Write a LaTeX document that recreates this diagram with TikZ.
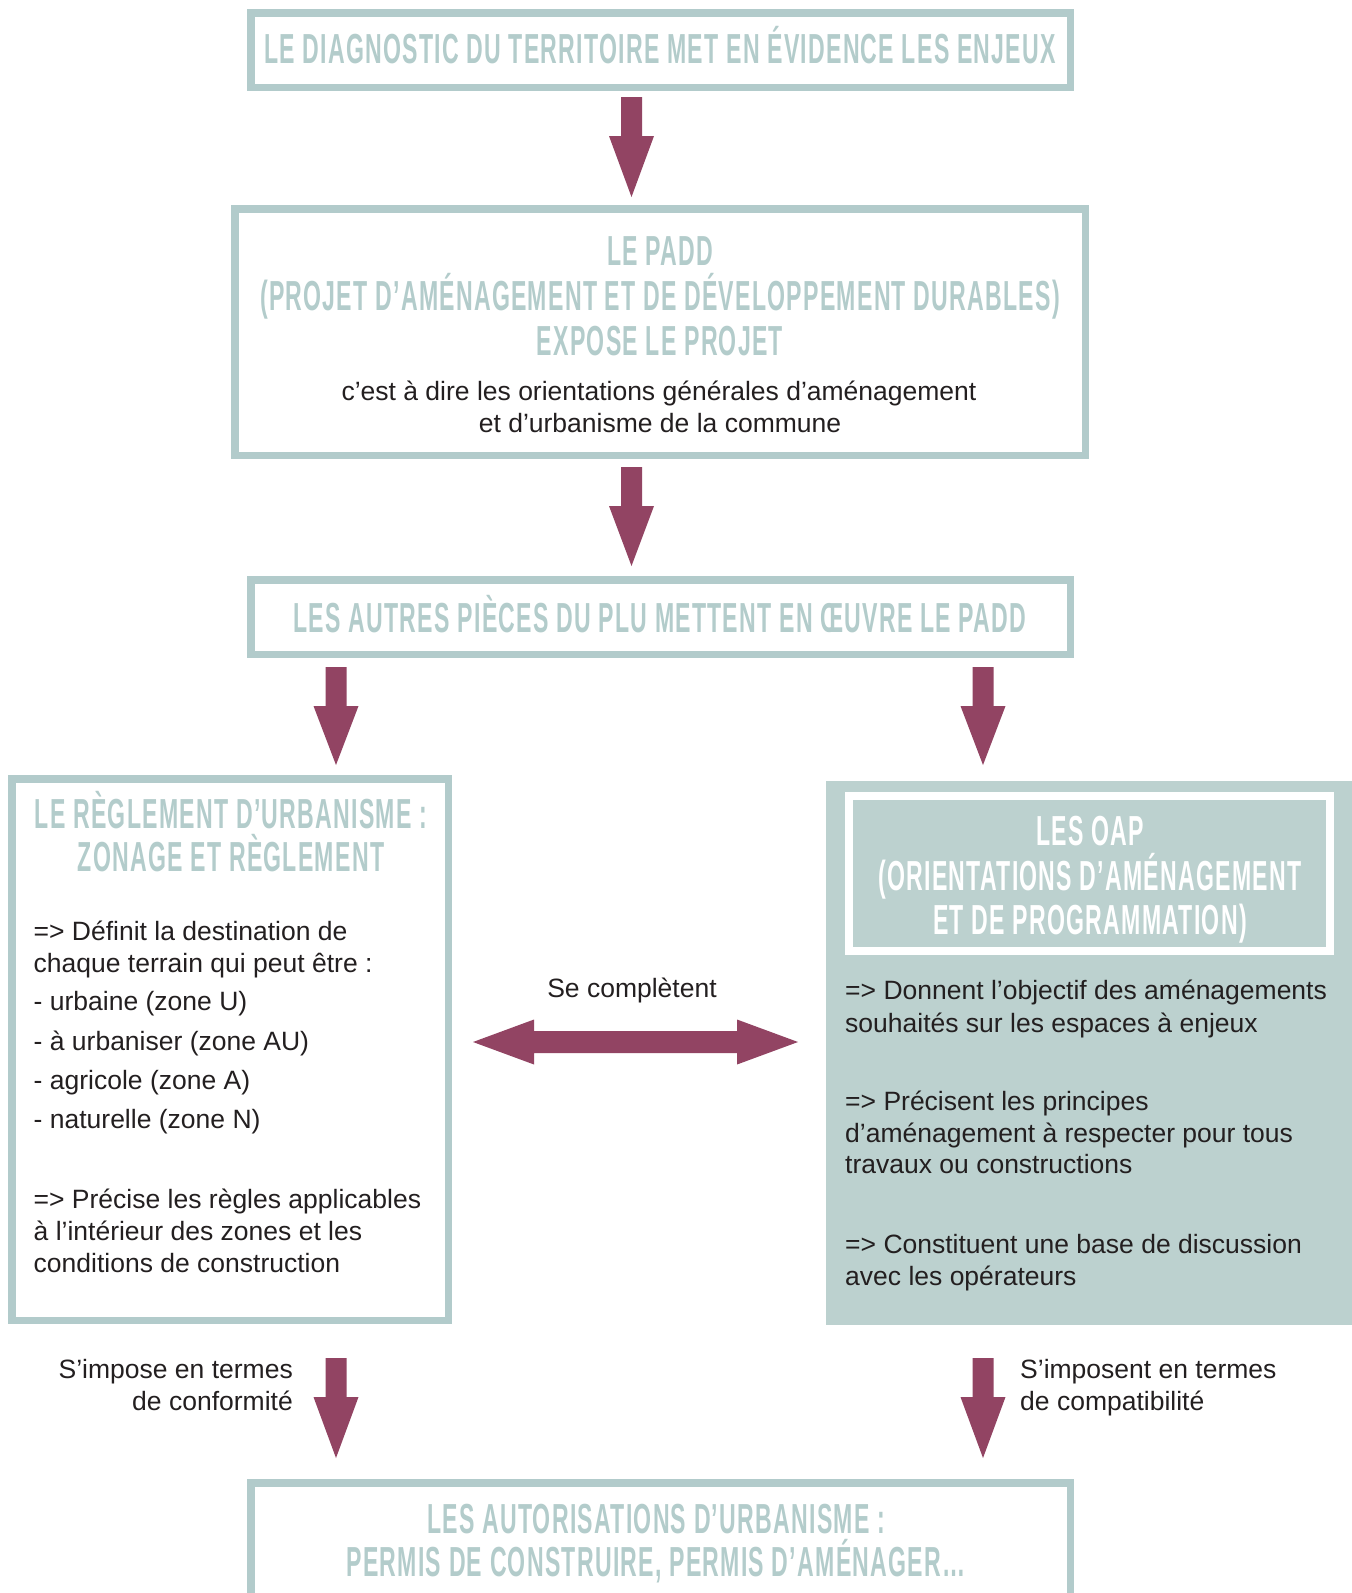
\documentclass[tikz,border=0pt]{standalone}
\usepackage{fontspec}
\setmainfont{Liberation Sans}
\newfontfamily\hdfont[FakeStretch=0.55,LetterSpace=3]{Liberation Sans Bold}
\usetikzlibrary{calc}
\definecolor{bord}{HTML}{B2CBCB}
\definecolor{fillc}{HTML}{BCD1CF}
\definecolor{hdc}{HTML}{B3CCCB}
\definecolor{arr}{HTML}{924463}
\definecolor{txt}{HTML}{231F20}
\newcommand\fatdown[2]{\fill[arr] let \p1=(#1), \p2=(#2) in
  (\x1-10.5pt,\y1) -- (\x1+10.5pt,\y1) -- (\x1+10.5pt,\y1-39pt) -- (\x1+22.5pt,\y1-39pt)
  -- (\x1,\y2) -- (\x1-22.5pt,\y1-39pt) -- (\x1-10.5pt,\y1-39pt) -- cycle;}
\newcommand\fatboth[2]{\fill[arr] let \p1=(#1), \p2=(#2) in
  (\x1,\y1) -- (\x1+61pt,\y1+22.5pt) -- (\x1+61pt,\y1+11pt) -- (\x2-61pt,\y1+11pt)
  -- (\x2-61pt,\y1+22.5pt) -- (\x2,\y1) -- (\x2-61pt,\y1-22.5pt) -- (\x2-61pt,\y1-11pt)
  -- (\x1+61pt,\y1-11pt) -- (\x1+61pt,\y1-22.5pt) -- cycle;}
\begin{document}
\begin{tikzpicture}[x=1pt, y=-1pt,
  box/.style={draw=bord, line width=7.5pt, inner sep=0pt, fill=white},
  hd/.style={font=\hdfont\fontsize{42pt}{45pt}\selectfont, text=hdc, inner sep=0pt, anchor=base},
  bt/.style={font=\fontsize{26.5pt}{31.5pt}\selectfont, text=txt, inner sep=0pt},
  btl/.style={bt, anchor=base west},
  btc/.style={bt, anchor=base}]
\useasboundingbox (0,0) rectangle (1352,1593);
\clip (0,0) rectangle (1352,1593);
\fill[white] (0,0) rectangle (1352,1593);

% boxes
\node[box, minimum width=819.5pt, minimum height=74.5pt] (b1) at (660.5,50) {};
\node[box, minimum width=850.5pt, minimum height=246.5pt] (b2) at (660,332) {};
\node[box, minimum width=819.5pt, minimum height=74.5pt] (b3) at (660.5,617) {};
\node[box, minimum width=436.5pt, minimum height=541.5pt] (b4) at (230,1049.5) {};
\node[fill=fillc, inner sep=0pt, outer sep=0pt, minimum width=526pt, minimum height=544pt] (b5) at (1089,1053) {};
\node[draw=white, line width=8pt, inner sep=0pt, minimum width=481pt, minimum height=155pt] (b5h) at (1089.5,873.5) {};
\node[box, minimum width=819.5pt, minimum height=133.5pt] (b6) at (660.5,1549.5) {};

% headings
\node[hd] (h1) at (660,63) {LE DIAGNOSTIC DU TERRITOIRE MET EN ÉVIDENCE LES ENJEUX};
\node[hd] (h2a) at (660,265) {LE PADD};
\node[hd] (h2b) at (660,310) {(PROJET D’AMÉNAGEMENT ET DE DÉVELOPPEMENT DURABLES)};
\node[hd] (h2c) at (660,355) {EXPOSE LE PROJET};
\node[btc] (p2a) at (659,400) {c’est à dire les orientations générales d’aménagement};
\node[btc] (p2b) at (660,432) {et d’urbanisme de la commune};
\node[hd] (h3) at (660,632) {LES AUTRES PIÈCES DU PLU METTENT EN ŒUVRE LE PADD};
\node[hd] (h4a) at (231,828) {LE RÈGLEMENT D’URBANISME :};
\node[hd] (h4b) at (231,871) {ZONAGE ET RÈGLEMENT};
\node[hd, text=white] (h5a) at (1090,845) {LES OAP};
\node[hd, text=white] (h5b) at (1090,890) {(ORIENTATIONS D’AMÉNAGEMENT};
\node[hd, text=white] (h5c) at (1090,934) {ET DE PROGRAMMATION)};
\node[hd] (h6a) at (656,1533) {LES AUTORISATIONS D’URBANISME :};
\node[hd] (h6b) at (656,1576) {PERMIS DE CONSTRUIRE, PERMIS D’AMÉNAGER…};

% left body
\node[btl] (l1) at (33.5,940) {=> Définit la destination de};
\node[btl] (l2) at (33.5,972) {chaque terrain qui peut être :};
\node[btl] (l3) at (33.5,1010) {- urbaine (zone U)};
\node[btl] (l4) at (33.5,1050) {- à urbaniser (zone AU)};
\node[btl] (l5) at (33.5,1089) {- agricole (zone A)};
\node[btl] (l6) at (33.5,1128) {- naturelle (zone N)};
\node[btl] (l7) at (33.5,1208) {=> Précise les règles applicables};
\node[btl] (l8) at (33.5,1240) {à l’intérieur des zones et les};
\node[btl] (l9) at (33.5,1272) {conditions de construction};

% right body
\node[btl] (r1) at (845,999) {=> Donnent l’objectif des aménagements};
\node[btl] (r2) at (845,1032) {souhaités sur les espaces à enjeux};
\node[btl] (r3) at (845,1110) {=> Précisent les principes};
\node[btl] (r4) at (845,1142) {d’aménagement à respecter pour tous};
\node[btl] (r5) at (845,1173) {travaux ou constructions};
\node[btl] (r6) at (845,1253) {=> Constituent une base de discussion};
\node[btl] (r7) at (845,1285) {avec les opérateurs};

% connector labels
\node[btc] (sc) at (632,997) {Se complètent};
\node[bt, anchor=base east] (cl1) at (293,1378) {S’impose en termes};
\node[bt, anchor=base east] (cl2) at (293,1410) {de conformité};
\node[btl] (cr1) at (1020,1378) {S’imposent en termes};
\node[btl] (cr2) at (1020,1410) {de compatibilité};

% connector coordinates
\coordinate (a1s) at ($(b1.south)+(-29,6)$);
\coordinate (a1e) at ($(b2.north)+(0,-8)$);
\coordinate (a2s) at ($(b2.south)+(-28.5,8)$);
\coordinate (a2e) at ($(b3.north)+(0,-10)$);
\coordinate (a3ls) at ($(b3.south)+(-324.5,9)$);
\coordinate (a3le) at ($(b4.north)+(0,-10)$);
\coordinate (a3rs) at ($(b3.south)+(322.5,9)$);
\coordinate (a3re) at ($(b5.north)+(0,-16)$);
\coordinate (a4ls) at ($(b4.south)+(106,34)$);
\coordinate (a4le) at ($(b6.north)+(0,-21)$);
\coordinate (a4rs) at ($(b5.south)+(-106,33)$);
\coordinate (a4re) at ($(b6.north)+(0,-21)$);
\coordinate (dL) at ($(b4.east)+(21,-7.5)$);
\coordinate (dR) at ($(b5.west)+(-28,-11)$);

\fatdown{a1s}{a1e}
\fatdown{a2s}{a2e}
\fatdown{a3ls}{a3le}
\fatdown{a3rs}{a3re}
\fatdown{a4ls}{a4le}
\fatdown{a4rs}{a4re}
\fatboth{dL}{dR}
\end{tikzpicture}
\end{document}
